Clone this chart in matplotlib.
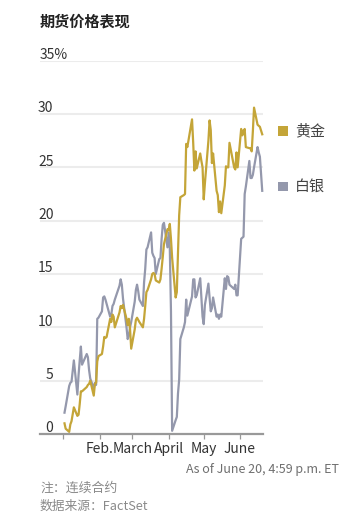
import matplotlib
matplotlib.use('Agg')
import matplotlib.pyplot as plt
import matplotlib.dates as mdates
import matplotlib.transforms as mtransforms
from matplotlib.patches import Rectangle
import pandas as pd

plt.rcParams['font.family'] = ['Noto Sans CJK SC', 'DejaVu Sans']

# ---------------- data ----------------
dates = [
    '2025-01-02', '2025-01-03', '2025-01-06', '2025-01-07', '2025-01-08', '2025-01-10',
    '2025-01-13', '2025-01-14', '2025-01-15', '2025-01-16', '2025-01-17', '2025-01-21',
    '2025-01-22', '2025-01-23', '2025-01-24', '2025-01-27', '2025-01-28', '2025-01-29',
    '2025-01-30', '2025-01-31', '2025-02-03', '2025-02-04', '2025-02-05', '2025-02-06',
    '2025-02-07', '2025-02-10', '2025-02-11', '2025-02-12', '2025-02-13', '2025-02-14',
    '2025-02-18', '2025-02-19', '2025-02-20', '2025-02-21', '2025-02-24', '2025-02-25',
    '2025-02-26', '2025-02-27', '2025-02-28', '2025-03-03', '2025-03-04', '2025-03-05',
    '2025-03-06', '2025-03-07', '2025-03-10', '2025-03-11', '2025-03-12', '2025-03-13',
    '2025-03-14', '2025-03-17', '2025-03-18', '2025-03-19', '2025-03-20', '2025-03-21',
    '2025-03-24', '2025-03-25', '2025-03-26', '2025-03-27', '2025-03-28', '2025-03-31',
    '2025-04-01', '2025-04-02', '2025-04-03', '2025-04-04', '2025-04-07', '2025-04-08',
    '2025-04-09', '2025-04-10', '2025-04-11', '2025-04-14', '2025-04-15', '2025-04-16',
    '2025-04-17', '2025-04-21', '2025-04-22', '2025-04-23', '2025-04-24', '2025-04-25',
    '2025-04-28', '2025-04-29', '2025-04-30', '2025-05-01', '2025-05-02', '2025-05-05',
    '2025-05-06', '2025-05-07', '2025-05-08', '2025-05-09', '2025-05-12', '2025-05-13',
    '2025-05-14', '2025-05-15', '2025-05-16', '2025-05-19', '2025-05-20', '2025-05-21',
    '2025-05-22', '2025-05-23', '2025-05-27', '2025-05-28', '2025-05-29', '2025-05-30',
    '2025-06-02', '2025-06-03', '2025-06-04', '2025-06-05', '2025-06-06', '2025-06-09',
    '2025-06-10', '2025-06-11', '2025-06-12', '2025-06-13', '2025-06-16', '2025-06-17',
    '2025-06-18', '2025-06-20',
]

gold = [
    1.0, 0.5, 0.2, 0.9, 1.2, 2.5,
    1.7, 1.8, 2.8, 4.0, 4.0, 4.4,
    4.6, 4.7, 5.0, 3.6, 4.7, 4.8,
    6.8, 7.3, 7.5, 8.2, 9.1, 9.0,
    9.1, 10.8, 10.5, 11.2, 11.0, 10.0,
    11.4, 12.0, 11.8, 12.1, 10.8, 10.2,
    10.8, 9.9, 8.0, 9.8, 10.7, 10.9,
    10.7, 10.5, 10.0, 10.8, 12.0, 13.3,
    13.5, 14.5, 15.0, 15.1, 15.0, 14.4,
    14.2, 14.5, 15.5, 16.6, 17.8, 19.2,
    19.1, 19.7, 18.3, 16.5, 12.8, 13.3,
    17.0, 20.5, 22.2, 22.4, 22.5, 27.2,
    26.9, 29.5, 27.3, 24.7, 26.5, 24.9,
    26.3, 25.6, 25.0, 22.0, 23.5, 27.5,
    29.4, 28.5, 25.4, 26.3, 22.8, 22.4,
    20.8, 21.8, 20.7, 23.3, 25.1, 25.0,
    25.0, 27.3, 25.0, 24.8, 26.4, 25.0,
    28.6, 28.0, 28.4, 28.6, 26.9, 26.8,
    26.8, 26.5, 28.4, 30.6, 29.0, 28.9,
    28.8, 28.1,
]

silver = [
    2.0, 2.6, 4.5, 4.8, 4.9, 6.9,
    3.7, 5.5, 6.9, 8.2, 6.5, 7.5,
    7.2, 6.0, 5.2, 4.3, 4.8, 4.6,
    10.8, 10.9, 11.5, 12.8, 12.9, 12.6,
    12.2, 11.0, 11.2, 12.0, 12.2, 12.6,
    13.9, 14.5, 14.0, 12.7, 10.0, 8.9,
    9.2, 10.0, 10.5, 12.4, 13.5, 14.0,
    13.4, 12.6, 12.0, 14.2, 15.5, 17.3,
    17.5, 18.9, 17.0, 16.7, 16.5, 15.0,
    16.4, 16.5, 18.3, 19.6, 19.8, 17.5,
    18.9, 17.4, 11.5, 0.3, 1.3, 1.6,
    3.8, 5.1, 8.9, 10.0, 10.5, 12.6,
    11.1, 12.9, 14.5, 14.5, 12.8, 13.0,
    14.6, 12.8, 11.0, 10.3, 12.1, 14.1,
    12.8, 11.5, 11.8, 12.8, 11.0, 11.2,
    10.8, 11.2, 11.0, 14.6, 13.6, 14.8,
    14.7, 14.0, 13.6, 14.0, 13.0, 13.0,
    18.3, 18.4, 18.5, 22.5, 23.2, 25.6,
    24.0, 24.0, 24.3, 25.0, 26.9, 26.4,
    26.0, 22.8,
]

series_names = ['黄金', '白银']
month_ticks = ['2025-01-01', '2025-02-01', '2025-03-01', '2025-04-01', '2025-05-01', '2025-06-01']
month_labels = ['', 'Feb.', 'March', 'April', 'May', 'June']
y_ticks = [0, 5, 10, 15, 20, 25, 30, 35]

title = '期货价格表现'
asof = 'As of June 20, 4:59 p.m. ET'
note = '注：连续合约'
source = '数据来源：FactSet'

# ---------------- styling ----------------
W, H = 361, 519
GOLD = '#C4A538'
SILVER = '#9498AC'

fig = plt.figure(figsize=(W / 100, H / 100), dpi=100)
fig.patch.set_facecolor('white')

ax_left, ax_right, ax_top, ax_bottom = 40, 263, 60.7, 434
ax = fig.add_axes([ax_left / W, 1 - ax_bottom / H, (ax_right - ax_left) / W, (ax_bottom - ax_top) / H])

x = mdates.date2num(pd.to_datetime(dates))
px_per_day = 1.17
first_px = 64.5
ax.set_xlim(x[0] - (first_px - ax_left) / px_per_day, x[0] + (ax_right - first_px) / px_per_day)
ax.set_ylim(0, 35)

for v in y_ticks[1:]:
    ax.axhline(v, color='#ececec', lw=1.5, zorder=0)

ax.plot(x, silver, color=SILVER, lw=1.6, solid_joinstyle='round', zorder=3, clip_on=False)
ax.plot(x, gold, color=GOLD, lw=1.6, solid_joinstyle='round', zorder=4, clip_on=False)

for s in ['top', 'right', 'left']:
    ax.spines[s].set_visible(False)
ax.spines['bottom'].set_color('#999999')
ax.spines['bottom'].set_linewidth(1.6)
ax.spines['bottom'].set_zorder(5)

ax.set_yticks([])
ax.set_xticks(mdates.date2num(pd.to_datetime(month_ticks)))
ax.set_xticklabels(month_labels)
ax.tick_params(axis='x', direction='out', length=3.5, width=0.9, color='#999999',
               labelsize=10, labelcolor='#333333', pad=2.5)

# y labels sitting above gridlines
ytrans = mtransforms.blended_transform_factory(ax.transAxes, ax.transData) + \
    mtransforms.ScaledTranslation(13.5 / 100, 1.8 / 100, fig.dpi_scale_trans)
ytrans_left = mtransforms.blended_transform_factory(ax.transAxes, ax.transData) + \
    mtransforms.ScaledTranslation(0, 1.8 / 100, fig.dpi_scale_trans)
for v in y_ticks:
    if v == y_ticks[-1]:
        ax.text(0, v, f'{v}%', transform=ytrans_left, ha='left', va='baseline',
                fontsize=10, color='#333333')
    else:
        ax.text(0, v, str(v), transform=ytrans, ha='right', va='baseline',
                fontsize=10, color='#333333')

# title and notes
fig.text(40 / W, 1 - 22 / H, title, ha='left', va='center', fontsize=10.9,
         fontweight='bold', color='#222222')
fig.text(339 / W, 1 - 470 / H, asof, ha='right', va='center', fontsize=9.0, color='#6f6f6f')
fig.text(40 / W, 1 - 488 / H, note, ha='left', va='center', fontsize=9.3, color='#8a8a8a')
fig.text(40 / W, 1 - 506 / H, source, ha='left', va='center', fontsize=9.2, color='#8a8a8a')

# legend
for name, col, yc in zip(series_names, [GOLD, SILVER], [131, 186.5]):
    sq = 9.5
    fig.add_artist(Rectangle((278 / W, 1 - (yc + sq / 2) / H), sq / W, sq / H,
                             transform=fig.transFigure, facecolor=col, edgecolor='none'))
    fig.text(295 / W, 1 - yc / H, name, ha='left', va='center', fontsize=10.8, color='#444444')

fig.savefig('out.png', dpi=100, facecolor='white')
